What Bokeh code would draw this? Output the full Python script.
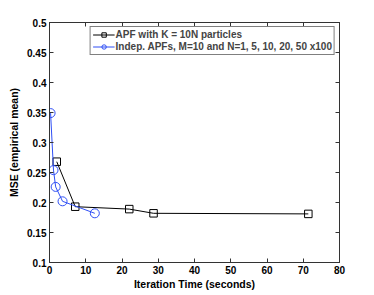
from bokeh.plotting import figure
from bokeh.models import LinearAxis, Range1d, Legend, LegendItem, FixedTicker
from bokeh.embed import file_html
from bokeh.resources import INLINE

# Data
apf_time = [2.0, 7.1, 22.0, 28.7, 71.4]
apf_mse = [0.268, 0.193, 0.189, 0.182, 0.181]
indep_time = [0.3, 1.1, 1.7, 3.6, 12.5]
indep_mse = [0.349, 0.254, 0.226, 0.202, 0.182]
x_ticks = [0, 10, 20, 30, 40, 50, 60, 70, 80]
y_ticks = [0.1, 0.15, 0.2, 0.25, 0.3, 0.35, 0.4, 0.45, 0.5]
legend_labels = ["APF with K = 10N particles",
                 "Indep. APFs, M=10 and N=1, 5, 10, 20, 50 x100"]

FONT = "Liberation Sans"
BLUE = "#2f4ff5"
AX = "#333333"

p = figure(width=374, height=295, output_backend="svg", toolbar_location=None,
           x_range=Range1d(0, 80), y_range=Range1d(0.1, 0.5),
           min_border_left=49, min_border_right=35, min_border_top=22, min_border_bottom=33)
p.grid.visible = False
p.outline_line_color = AX

bottom = p.below[0]
left = p.left[0]
bottom.ticker = FixedTicker(ticks=x_ticks)
left.ticker = FixedTicker(ticks=y_ticks)
bottom.axis_label = "Iteration Time (seconds)"
left.axis_label = "MSE (empirical mean)"

top = LinearAxis(ticker=FixedTicker(ticks=x_ticks),
                 major_label_overrides={t: "" for t in x_ticks})
right = LinearAxis(ticker=FixedTicker(ticks=y_ticks),
                   major_label_overrides={t: "" for t in y_ticks})
p.add_layout(top, "above")
p.add_layout(right, "right")

for ax in [bottom, left, top, right]:
    ax.major_tick_in = 4
    ax.major_tick_out = 0
    ax.minor_tick_in = 0
    ax.minor_tick_out = 0
    ax.axis_line_color = AX
    ax.major_tick_line_color = AX
    ax.major_label_text_font = FONT
    ax.major_label_text_font_style = "bold"
    ax.major_label_text_color = "black"
    ax.major_label_text_font_size = "10px"
    ax.axis_label_text_font = FONT
    ax.axis_label_text_font_style = "bold"
    ax.axis_label_text_color = "black"
    ax.axis_label_text_font_size = "10.5px"

top.major_label_standoff = 0
right.major_label_standoff = 0
top.major_label_text_font_size = "1px"
right.major_label_text_font_size = "1px"
bottom.major_label_standoff = 3
left.major_label_standoff = 3
bottom.axis_label_standoff = 1
left.axis_label_standoff = 4

l1 = p.line(apf_time, apf_mse, line_color="black", line_width=1)
s1 = p.scatter(apf_time, apf_mse, marker="square", size=7.5, line_color="black",
               fill_alpha=0, line_width=1)
l2 = p.line(indep_time, indep_mse, line_color=BLUE, line_width=1)
s2 = p.scatter(indep_time, indep_mse, marker="circle", size=9, line_color=BLUE,
               fill_alpha=0, line_width=1)

legend = Legend(items=[LegendItem(label=legend_labels[0], renderers=[l1, s1]),
                       LegendItem(label=legend_labels[1], renderers=[l2, s2])],
                location="top_right")
legend.margin = 4
legend.padding = 2
legend.spacing = 1
legend.label_standoff = 1
legend.glyph_width = 22
legend.glyph_height = 11
legend.label_height = 11
legend.label_text_font = FONT
legend.label_text_font_style = "bold"
legend.label_text_font_size = "10px"
legend.border_line_color = "black"
legend.border_line_width = 1
p.add_layout(legend, "center")

open("out.html", "w").write(file_html(p, INLINE))
